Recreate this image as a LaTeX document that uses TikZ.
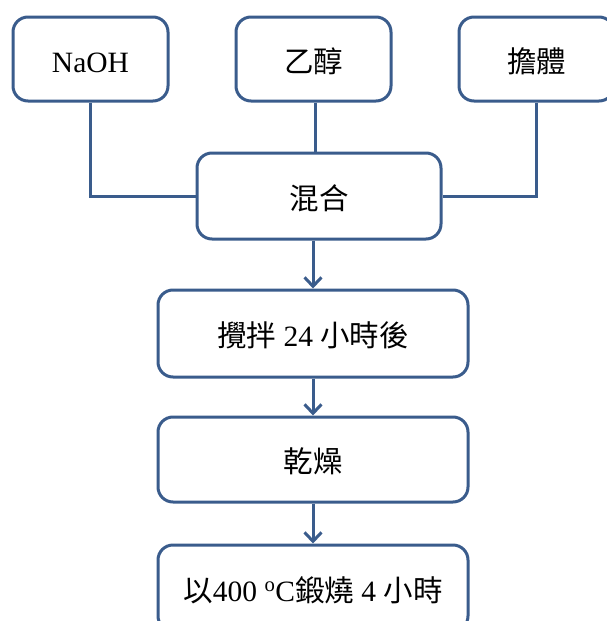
\documentclass[tikz,border=0pt]{standalone}
\usepackage{fontspec}
\setmainfont{Liberation Serif}
\newfontfamily\cjk{Noto Sans CJK TC}
\usetikzlibrary{arrows.meta}
\definecolor{boxline}{RGB}{58,92,140}
\begin{document}
\begin{tikzpicture}[x=1pt,y=-1pt,
  stepbox/.style={draw=boxline, line width=3pt, rounded corners=15pt, fill=white,
    minimum height=84pt, inner sep=0pt, text height=30pt, text depth=4pt,
    font=\fontsize{29.5}{34}\selectfont},
  topbox/.style={stepbox, minimum width=155pt},
  midbox/.style={stepbox, minimum width=310pt},
  link/.style={draw=boxline, line width=3pt},
  flow/.style={link, -{Straight Barb[length=9pt,width=17pt]}}]
\useasboundingbox (0,0) rectangle (607,621);
\node[topbox] (naoh) at (90.5,59) {NaOH};
\node[topbox] (eth) at (313.5,59) {\cjk 乙醇};
\node[topbox] (carrier) at (536.5,59) {\cjk 擔體};
\node[stepbox, minimum width=244pt, minimum height=86pt] (mix) at (319,196) {\cjk 混合};
\node[midbox, minimum height=87pt] (stir) at (313,333.5) {\cjk 攪拌\rm\ 24 \cjk 小時後};
\node[midbox, minimum height=85pt] (dry) at (313,459.5) {\cjk 乾燥};
\node[midbox, minimum height=86pt] (calc) at (313,588) {\cjk 以\rm 400 \textsuperscript{o}C\cjk 鍛燒\rm\ 4 \cjk 小時};
\draw[link] (naoh.south) |- (mix.west);
\draw[link] (carrier.south) |- (mix.east);
\draw[link] ([xshift=1.5pt]eth.south) -- ([xshift=1.5pt]eth.south |- mix.north);
\draw[flow] (mix.south -| stir) -- (stir.north);
\draw[flow] (stir.south) -- (dry.north);
\draw[flow] (dry.south) -- (calc.north);
\end{tikzpicture}
\end{document}
